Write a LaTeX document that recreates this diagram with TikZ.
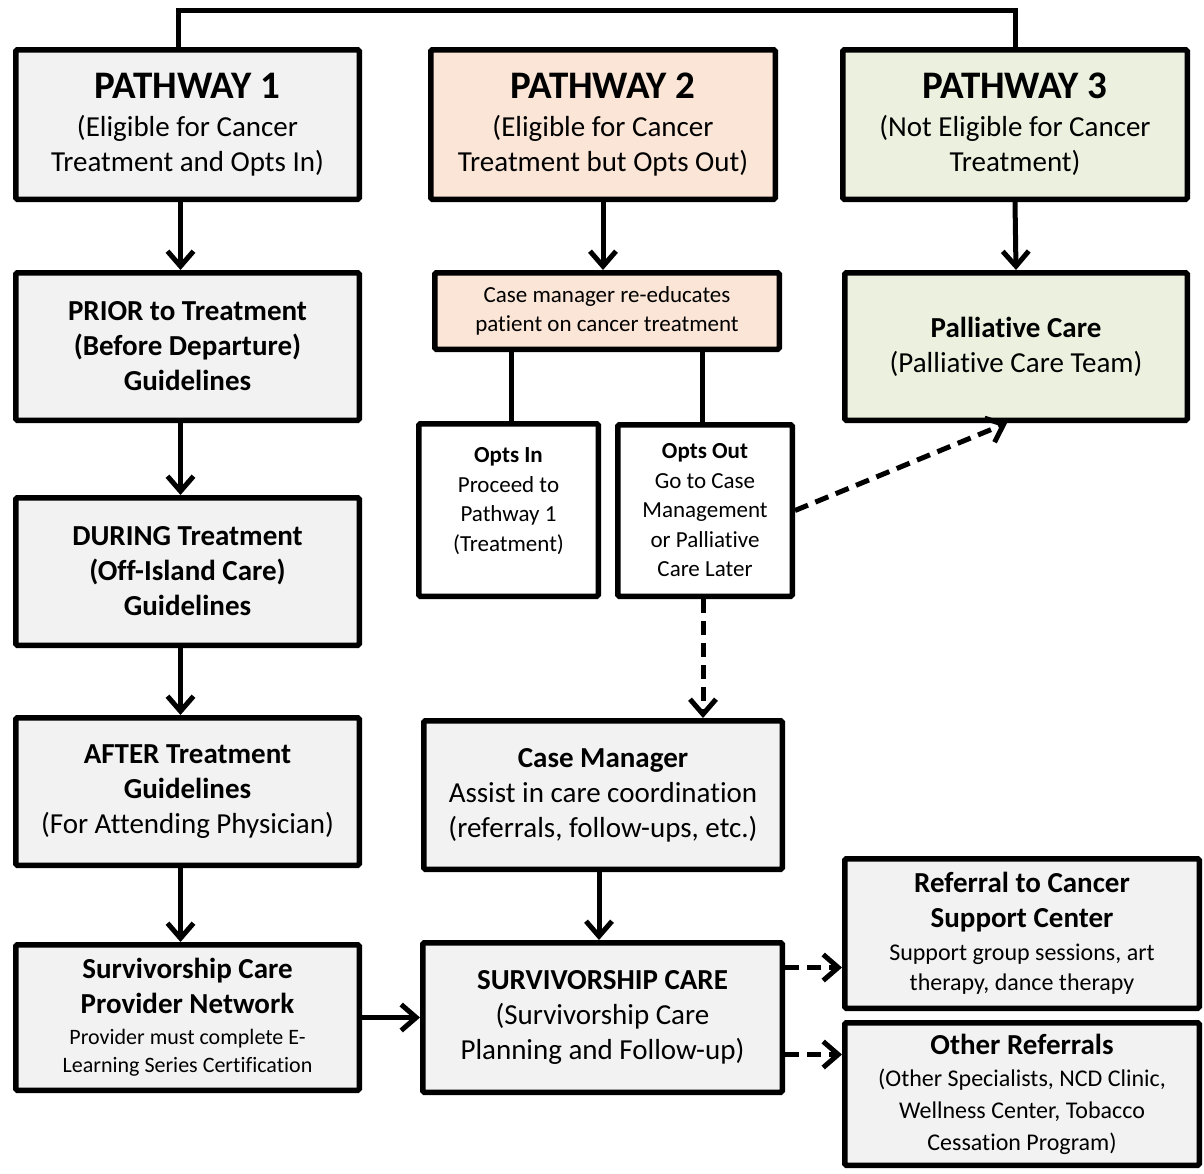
\documentclass[tikz,border=0pt]{standalone}
\usepackage{fontspec}
\setmainfont{Carlito}[Ligatures=NoCommon]
\usetikzlibrary{arrows.meta,calc}
\definecolor{pathgrey}{HTML}{F2F2F2}
\definecolor{pathpeach}{HTML}{FBE5D6}
\definecolor{pathgreen}{HTML}{EBF1DE}
\tikzset{
  box/.style={draw, line width=5.5pt, rounded corners=1.5pt, align=center, inner sep=2pt, font=\fontsize{29}{35}\selectfont},
  greybox/.style={box, fill=pathgrey},
  peachbox/.style={box, fill=pathpeach},
  greenbox/.style={box, fill=pathgreen},
  boldtext/.style={font=\fontsize{29}{35}\selectfont\bfseries},
  smalltext/.style={font=\fontsize{23}{29.5}\selectfont},
  link/.style={line width=5pt},
  arr/.style={link, -{Straight Barb[length=15pt, width=26pt]}},
  dasharr/.style={arr, dash pattern=on 14pt off 8pt},
}
\newcommand{\pathtitle}[1]{{\fontsize{39}{40}\selectfont\bfseries #1}}
\newcommand{\subline}[1]{{\fontsize{22}{27}\selectfont #1}}
\newcommand{\refline}[1]{{\fontsize{24}{29}\selectfont #1}}

\begin{document}
\begin{tikzpicture}[x=1pt, y=-1pt]
    \useasboundingbox (0, 0) rectangle (1204, 1173);

    \node[greybox, minimum width=343.5pt, minimum height=149.5pt] at (187.5, 124.5) (path1) {\pathtitle{PATHWAY 1}\\[3pt](Eligible for Cancer\\Treatment and Opts In)};
    \node[peachbox, minimum width=344.5pt, minimum height=149.5pt] at (603, 124.5) (path2) {\pathtitle{PATHWAY 2}\\[3pt](Eligible for Cancer\\Treatment but Opts Out)};
    \node[greenbox, minimum width=344.5pt, minimum height=149.5pt] at (1015, 124.5) (path3) {\pathtitle{PATHWAY 3}\\[3pt](Not Eligible for Cancer\\Treatment)};

    \node[greybox, boldtext, minimum width=343.5pt, minimum height=147.5pt] at (187.5, 346.5) (prior) {PRIOR to Treatment\\(Before Departure)\\Guidelines};
    \node[greybox, boldtext, minimum width=343.5pt, minimum height=147.5pt] at (187.5, 571.5) (during) {DURING Treatment\\(Off-Island Care)\\Guidelines};
    \node[greybox, minimum width=343.5pt, minimum height=147.5pt] at (187.5, 791.5) (after) {\textbf{AFTER Treatment}\\\textbf{Guidelines}\\(For Attending Physician)};
    \node[greybox, minimum width=343.5pt, minimum height=145.5pt] at (187.5, 1017.5) (provider) {\textbf{Survivorship Care}\\\textbf{Provider Network}\\[-4pt]\subline{Provider must complete E-}\\[-7pt]\subline{Learning Series Certification}};

    \node[peachbox, smalltext, minimum width=344.5pt, minimum height=76.5pt] at (607, 311) (reeducate) {Case manager re-educates\\patient on cancer treatment};
    \node[box, smalltext, fill=white, minimum width=179.5pt, minimum height=172.5pt] at (508.5, 510) (optsin) {\textbf{Opts In}\\Proceed to\\Pathway 1\\(Treatment)\\[-8pt]\mbox{}};
    \node[box, smalltext, fill=white, minimum width=174.5pt, minimum height=171.5pt] at (705, 510.5) (optsout) {\textbf{Opts Out}\\Go to Case\\Management\\or Palliative\\Care Later};
    \node[greenbox, minimum width=342.5pt, minimum height=147.5pt] at (1016, 346.5) (palliative) {\textbf{Palliative Care}\\(Palliative Care Team)};

    \node[greybox, minimum width=358.5pt, minimum height=148.5pt] at (603, 795) (casemgr) {\textbf{Case Manager}\\Assist in care coordination\\(referrals, follow-ups, etc.)};
    \node[greybox, minimum width=359.5pt, minimum height=149.5pt] at (602.5, 1017.5) (survcare) {\textbf{SURVIVORSHIP CARE}\\(Survivorship Care\\Planning and Follow-up)};

    \node[greybox, minimum width=354.5pt, minimum height=149.5pt] at (1022, 933.5) (support) {\textbf{Referral to Cancer}\\\textbf{Support Center}\\[-2pt]\refline{Support group sessions, art}\\[-5pt]\refline{therapy, dance therapy}};
    \node[greybox, minimum width=354.5pt, minimum height=142.5pt] at (1022, 1094) (otherref) {\textbf{Other Referrals}\\[-3pt]\refline{(Other Specialists, NCD Clinic,}\\[-3pt]\refline{Wellness Center, Tobacco}\\[-3pt]\refline{Cessation Program)}};

    \coordinate (topline) at (600, 10);
    \draw[link] ([xshift=-9pt]path1.north) |- (topline) -| (path3.north);

    \draw[arr] ([xshift=-7pt]path1.south) -- ([xshift=-7pt]prior.north);
    \draw[arr] ([xshift=-7pt]prior.south) -- ([xshift=-7pt]during.north);
    \draw[arr] ([xshift=-7pt]during.south) -- ([xshift=-7pt]after.north);
    \draw[arr] ([xshift=-7pt]after.south) -- ([xshift=-7pt]provider.north);

    \draw[arr] (path2.south) -- (path2.south |- reeducate.north);
    \draw[link] ([xshift=3pt]optsin.north |- reeducate.south) -- ([xshift=3pt]optsin.north);
    \draw[link] ([xshift=-3pt]optsout.north |- reeducate.south) -- ([xshift=-3pt]optsout.north);
    \draw[arr] (path3.south) -- (palliative.north);

    \draw[dasharr] (optsout.east) -- ([xshift=-9pt]palliative.south);
    \draw[dasharr] ([xshift=-2pt]optsout.south) -- ([xshift=-2pt]optsout.south |- casemgr.north);

    \draw[arr] ([xshift=-4pt]casemgr.south) -- ([xshift=-4pt]casemgr.south |- survcare.north);
    \draw[arr] (provider.east) -- (provider.east -| survcare.west);
    \draw[dasharr] ([yshift=50pt]survcare.east) -- ([yshift=50pt]survcare.east -| support.west);
    \draw[dasharr] ([yshift=-37pt]survcare.east) -- ([yshift=-37pt]survcare.east -| otherref.west);
\end{tikzpicture}
\end{document}
